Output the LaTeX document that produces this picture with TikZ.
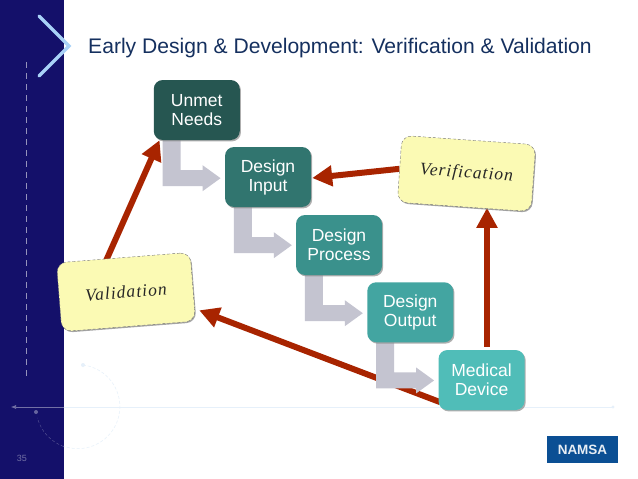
\documentclass[tikz,border=0pt]{standalone}
\usepackage{fontspec}
\setmainfont{Liberation Sans}
\newfontfamily\handfont[LetterSpace=6]{Liberation Serif}
\usetikzlibrary{arrows.meta,shadows,calc}
\pgfdeclarelayer{bgz}
\pgfdeclarelayer{bgl}
\pgfdeclarelayer{bgm}
\pgfsetlayers{bgz,bgl,bgm,main}
\definecolor{band}{HTML}{14106A}
\definecolor{cA}{HTML}{265651}
\definecolor{cB}{HTML}{31756F}
\definecolor{cC}{HTML}{3A918C}
\definecolor{cD}{HTML}{43A5A1}
\definecolor{cE}{HTML}{50BDB8}
\definecolor{redarrow}{HTML}{A82400}
\definecolor{grayarrow}{HTML}{C4C4D0}
\definecolor{titleblue}{HTML}{15305F}
\definecolor{noteyellow}{HTML}{FBFAB4}
\definecolor{logoblue}{HTML}{0B4F94}
\definecolor{chev}{HTML}{A9D2F8}
\definecolor{guide}{HTML}{E6F0FA}
\tikzset{
  x=1pt,y=-1pt,
  stepbox/.style={rounded corners=9pt,minimum width=86pt,minimum height=60pt,inner sep=0pt,
    text=white,font=\fontsize{17.5}{19}\selectfont,align=center,
    drop shadow={shadow xshift=1.2pt,shadow yshift=-1.4pt,fill=black!45,opacity=.7}},
  notebox/.style={rounded corners=10pt,fill=noteyellow,draw=black!55,densely dashed,line width=.4pt,
    minimum width=134pt,minimum height=67pt,inner sep=0pt,text=black!85,
    font=\handfont\itshape\fontsize{17.5}{18}\selectfont,
    drop shadow={shadow xshift=1pt,shadow yshift=-1.2pt,fill=black!50,opacity=.7}},
  redline/.style={draw=redarrow,line width=6pt,-{Triangle[length=20pt,width=20pt]}},
  elbow/.style={fill=grayarrow},
}
\newcommand{\elbowfrom}[1]{%
  \fill[elbow] ([shift={(9,0)}]#1.south west) -- ++(18,0) -- ++(0,30) -- ++(22,0) -- ++(0,-5)
    -- ++(18,13) -- ++(-18,13) -- ++(0,-5) -- ++(-40,0) -- cycle;}
\begin{document}
\begin{tikzpicture}
\useasboundingbox (0,0) rectangle (638,479);
\begin{pgfonlayer}{bgz}
\fill[white] (0,0) rectangle (638,479);
\fill[band] (0,0) rectangle (63.5,479);
\draw[white!55!band,line width=.5pt,dash pattern=on 6pt off 5pt] (26.5,62) -- (26.5,378);
\draw[guide,line width=.6pt] (63.5,407) -- (613,407);
\draw[white!40!band,line width=.6pt,-{Latex[length=5pt,width=4pt]}] (63.5,407) -- (11,407);
\draw[guide,line width=.5pt,densely dashed] (83,365) arc[start angle=-83,delta angle=193,radius=42];
\draw[white!25!band,line width=.5pt,densely dashed] (63.6,446.5) arc[start angle=110,delta angle=55,radius=42];
\fill[guide] (83,365) circle (2pt);
\fill[white!35!band] (36,412) circle (2pt);
\fill[guide] (613,407) circle (1.6pt);
\end{pgfonlayer}
% chevron
\draw[chev,line width=3.2pt,line cap=round,line join=miter] (39,16) -- (69,46) -- (39,76);
\node[anchor=base west,inner sep=0pt,text=titleblue,font=\fontsize{21.1}{24}\selectfont] (title) at (88,53.5)
  {Early Design \& Development: Verification \& Validation};
\node[anchor=base,inner sep=0pt,text=white!40!band,font=\fontsize{9}{11}\selectfont] (pg) at (22,461.5) {35};
\node[fill=logoblue,text=white!90!logoblue,minimum width=71pt,minimum height=27pt,inner sep=0pt,
  font=\bfseries\fontsize{13.5}{15}\selectfont] (logo) at (582.5,449.5) {NAMSA};
% step boxes
\node[stepbox,fill=cA] (un) at (196.75,110) {Unmet\\Needs};
\node[stepbox,fill=cB] (in) at (268,177) {Design\\Input};
\node[stepbox,fill=cC] (pr) at (339,245) {Design\\Process};
\node[stepbox,fill=cD] (ou) at (410.25,312.25) {Design\\Output};
\node[stepbox,fill=cE] (me) at (481.5,380) {Medical\\Device};
% notes
\node[notebox,rotate=-4] (ver) at (466.5,173.5) {Verification};
\node[notebox,rotate=4.5,minimum height=69pt] (val) at (126,292) {Validation};
% connectors
\begin{pgfonlayer}{bgl}
\draw[redline] ([shift={(-18,5)}]val.north) -- ([shift={(6,0)}]un.south west);
\draw[redline] (ver.west) -- ([shift={(1,1)}]in.east);
\draw[redline] ([shift={(5.5,-3)}]me.north) -- ++(0,-139);
\draw[redline] ([shift={(2,-8)}]me.south west) -- ([shift={(3.5,-11)}]val.south east);
\end{pgfonlayer}
\begin{pgfonlayer}{bgm}
\elbowfrom{un}
\elbowfrom{in}
\elbowfrom{pr}
\elbowfrom{ou}
\end{pgfonlayer}
\end{tikzpicture}
\end{document}
